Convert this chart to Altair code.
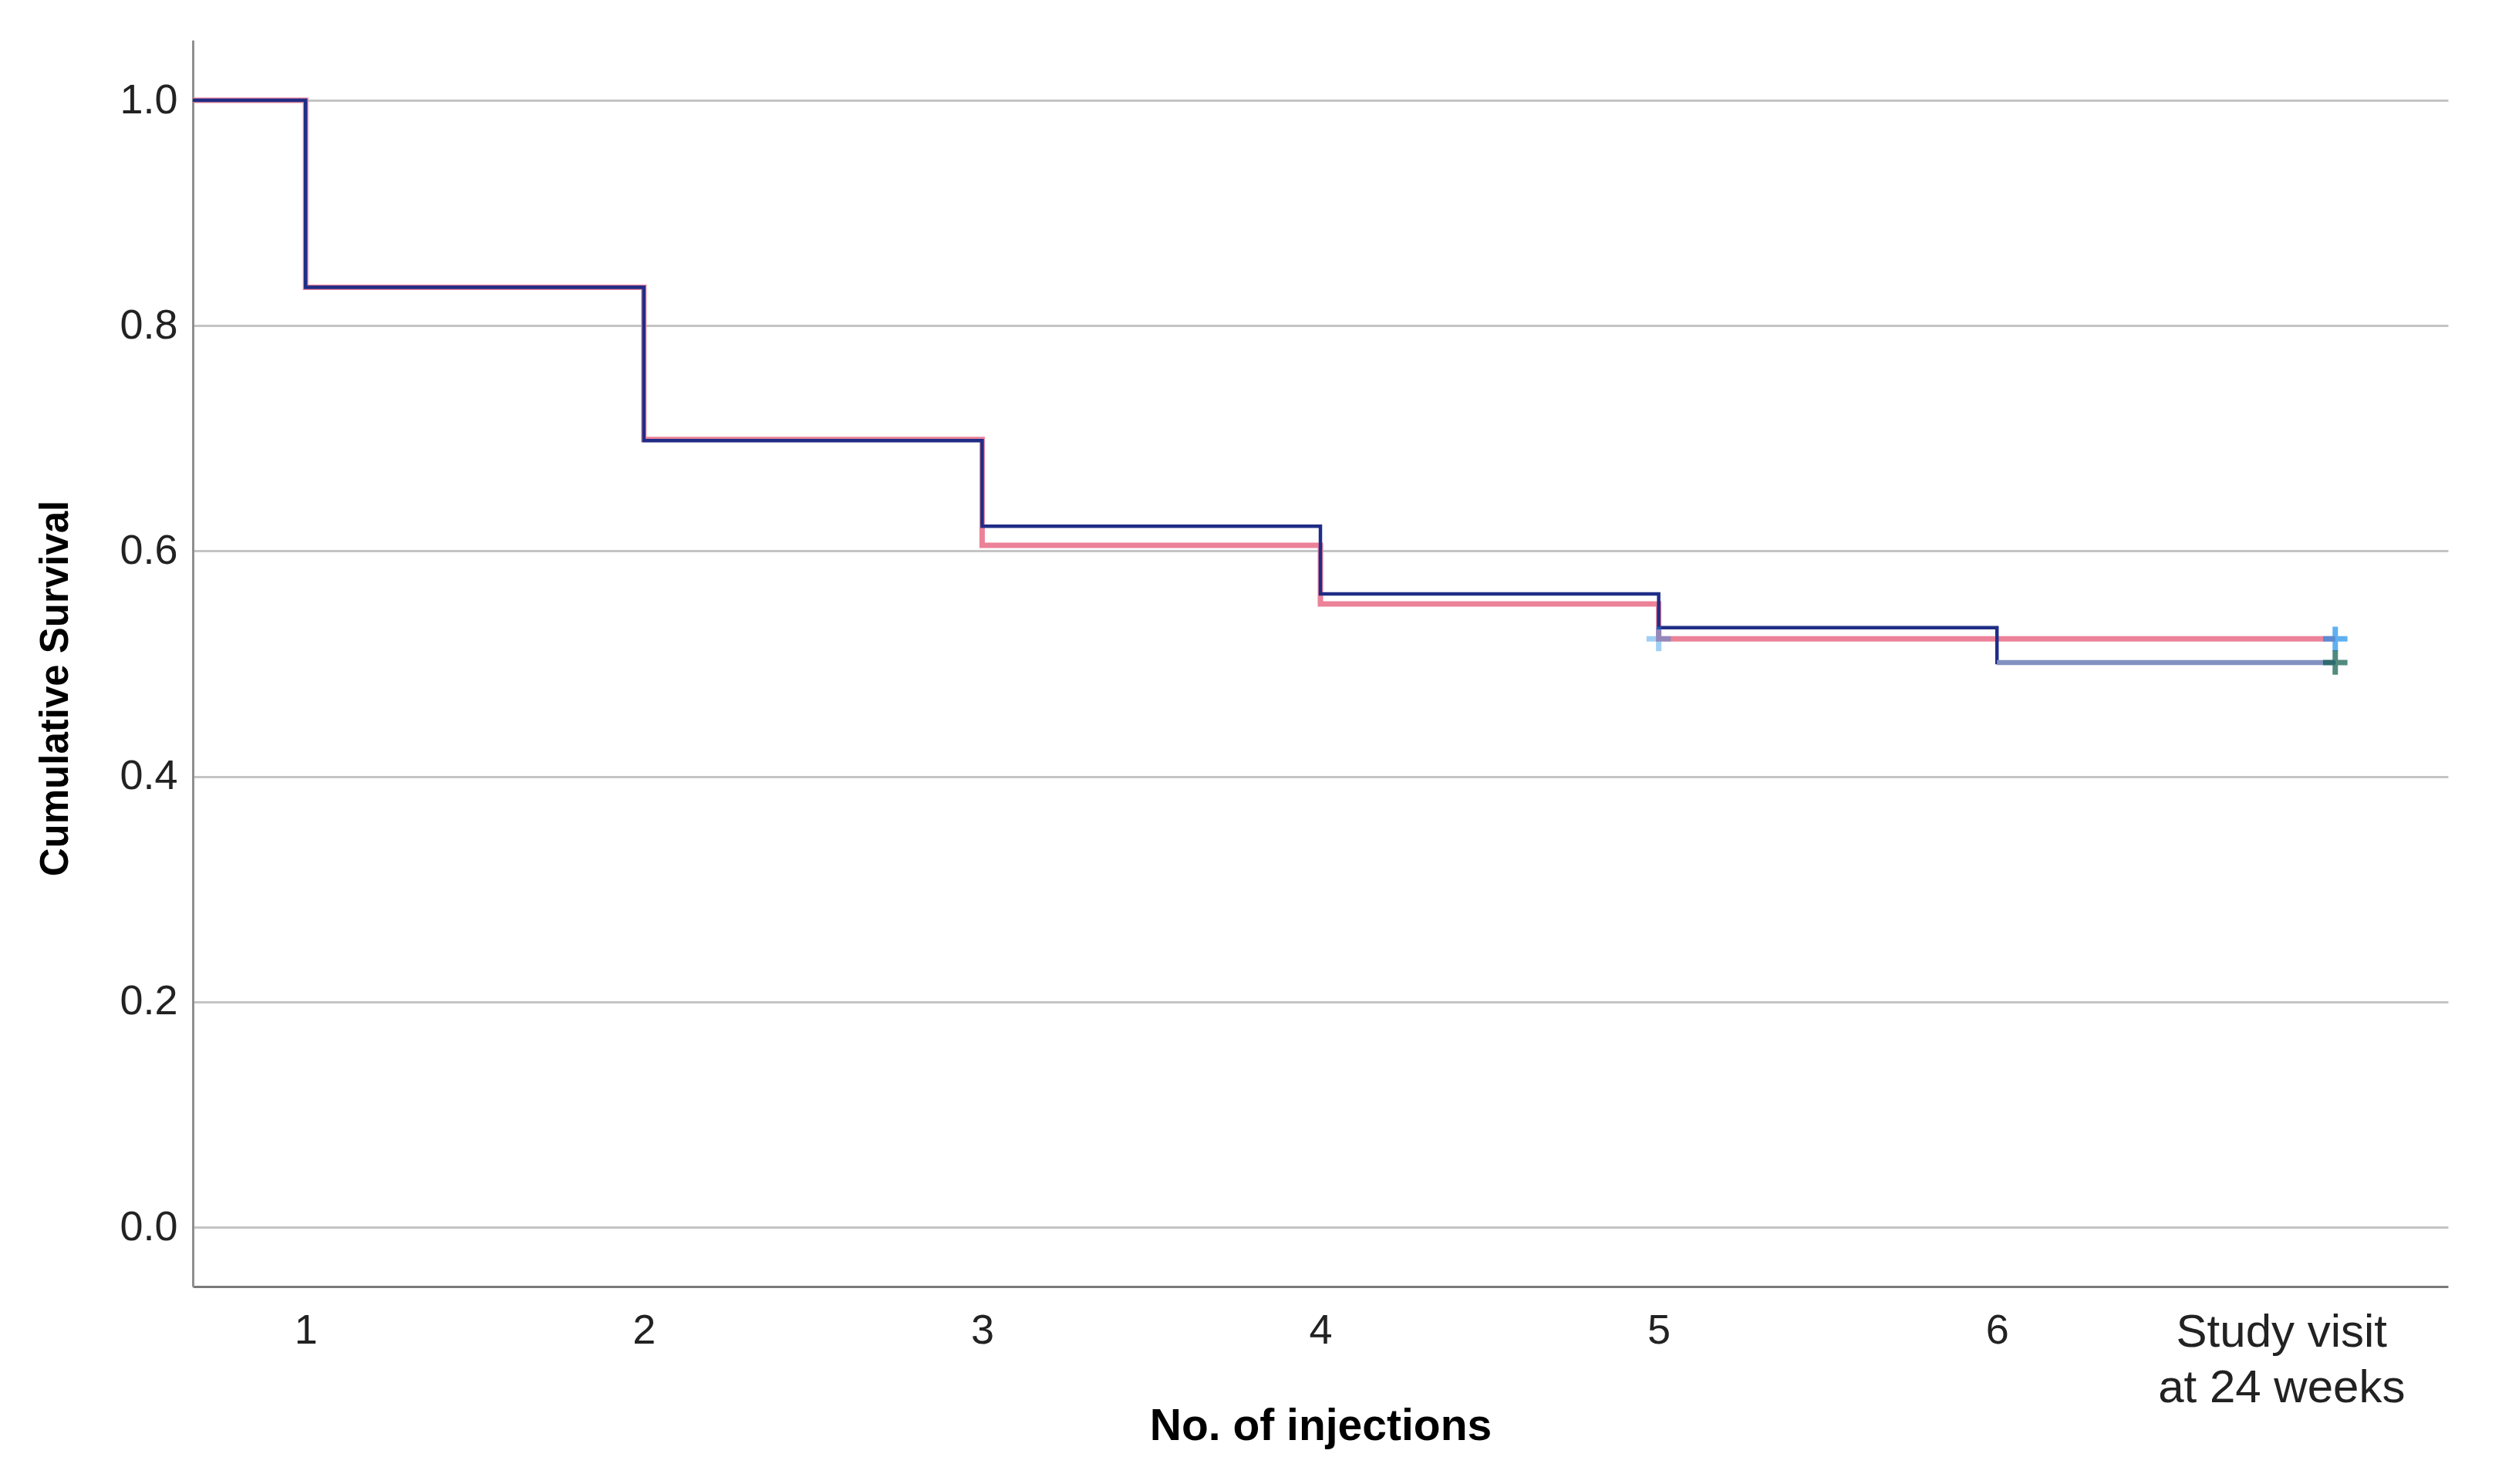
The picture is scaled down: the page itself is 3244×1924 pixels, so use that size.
import json
import altair as alt
import pandas as pd

# ---- data ----
times = [0, 1, 2, 3, 4, 5, 6, 7]
surv_navy = [1.0, 0.834, 0.698, 0.622, 0.562, 0.532, 0.501, 0.501]
surv_pink = [1.0, 0.834, 0.699, 0.605, 0.553, 0.522, 0.522, 0.522]
censor_pink_t = [5, 7]
censor_pink_s = [0.522, 0.522]
censor_navy_t = [7]
censor_navy_s = [0.501]
x_tick_values = [1, 2, 3, 4, 5, 6, 7]
x_tick_labels = [["1"], ["2"], ["3"], ["4"], ["5"], ["6"], ["Study visit", "at 24 weeks"]]
y_tick_values = [0.0, 0.2, 0.4, 0.6, 0.8, 1.0]

FONT = "Liberation Sans"

df_navy = pd.DataFrame({"t": times, "s": surv_navy})
df_pink = pd.DataFrame({"t": times, "s": surv_pink})
df_tail = pd.DataFrame({"t": times[6:], "s": surv_navy[6:]})
df_cp = pd.DataFrame({"t": censor_pink_t, "s": censor_pink_s})
df_cn = pd.DataFrame({"t": censor_navy_t, "s": censor_navy_s})

label_expr = json.dumps(x_tick_labels) + "[datum.value - 1]"

x_enc = alt.X(
    "t:Q",
    scale=alt.Scale(domain=[2 / 3, 7 + 1 / 3], nice=False, zero=False),
    axis=alt.Axis(
        values=x_tick_values,
        labelExpr=label_expr,
        grid=False,
        ticks=False,
        domainColor="#7a7a7a",
        domainWidth=3,
        labelFont=FONT,
        labelFontSize={"condition": {"test": "datum.value == 7", "value": 60}, "value": 54},
        labelColor="#222222",
        labelPadding=30,
        labelLineHeight=72,
        labelLimit=0,
        labelOverlap=False,
        labelOffset={"condition": {"test": "datum.value == 7", "value": -70}, "value": 0},
        title="No. of injections",
        titleFont=FONT,
        titleFontSize=57,
        titleFontWeight="bold",
        titleColor="#000000",
        titleBaseline="alphabetic",
        titleY=198,
    ),
)

y_enc = alt.Y(
    "s:Q",
    scale=alt.Scale(domain=[-0.0527, 1.0534], nice=False, zero=False),
    axis=alt.Axis(
        values=y_tick_values,
        format=".1f",
        grid=True,
        gridColor="#c4c4c4",
        gridWidth=3,
        ticks=False,
        domainColor="#8f8f8f",
        domainWidth=3,
        labelFont=FONT,
        labelFontSize=54,
        labelColor="#222222",
        labelPadding=20,
        title="Cumulative Survival",
        titleFont=FONT,
        titleFontSize=51,
        titleFontWeight="bold",
        titleColor="#000000",
        titleAngle=270,
        titleBaseline="middle",
        titleX=-178,
        titleY=840,
    ),
)

pink_line = alt.Chart(df_pink).mark_line(
    interpolate="step-after", color="#ec8298", strokeWidth=7, clip=True
).encode(x=x_enc, y=y_enc)

navy_line = alt.Chart(df_navy).mark_line(
    interpolate="step-after", color="#1f2d86", strokeWidth=4.5, clip=True
).encode(x=x_enc, y=y_enc)

navy_tail = alt.Chart(df_tail).mark_line(
    color="#8290c0", strokeWidth=6.5, clip=True
).encode(x=x_enc, y=y_enc)

plus = "M-1,0L1,0M0,-1L0,1"

cens_pink = alt.Chart(df_cp).mark_point(
    shape=plus, filled=False, strokeWidth=7, size=1000, color="#1e90ea", clip=True
).encode(
    x=x_enc,
    y=y_enc,
    strokeOpacity=alt.condition("datum.t < 6", alt.value(0.6), alt.value(1.0)),
)

cens_navy = alt.Chart(df_cn).mark_point(
    shape=plus, filled=False, strokeWidth=7, size=1000, color="#0a5a4a", clip=True
).encode(x=x_enc, y=y_enc)

chart = (
    alt.layer(pink_line, navy_line, navy_tail, cens_pink, cens_navy)
    .properties(
        width=2924,
        height=1616,
        autosize=alt.AutoSizeParams(type="none"),
        padding={"left": 242, "top": 44, "right": 60, "bottom": 240},
        background="white",
    )
    .configure_view(stroke=None)
)

chart.save("out.html", embed_options={"renderer": "svg", "actions": False})
